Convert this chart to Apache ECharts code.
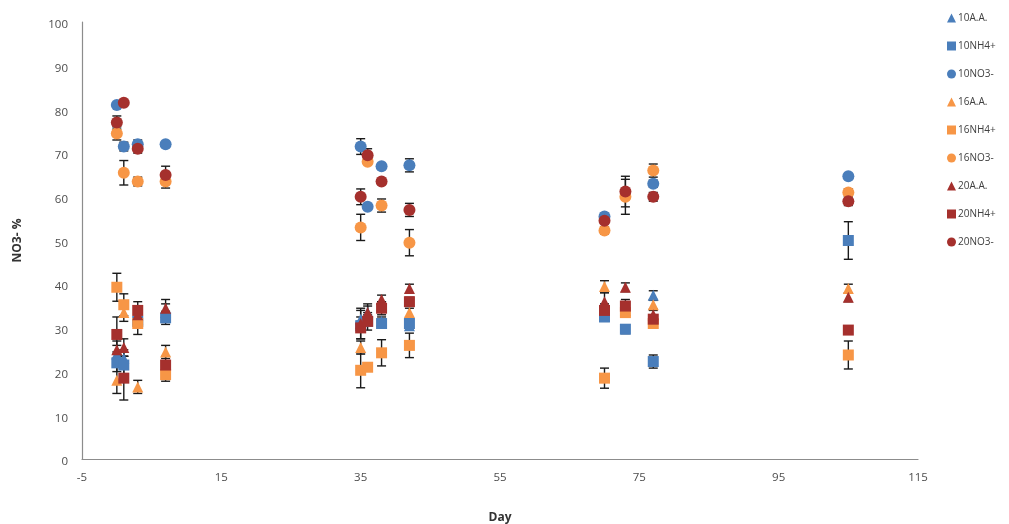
<!DOCTYPE html>
<html>
<head>
<meta charset="utf-8">
<script src="https://cdn.jsdelivr.net/npm/echarts@6/dist/echarts.min.js"></script>
<style>
  html, body { margin: 0; padding: 0; background: #fff; }
  #chart { width: 1009px; height: 524px; }
</style>
</head>
<body>
<div id="chart"></div>
<script>
// Sampling days (x positions)
const days = [0, 1, 3, 7, 35, 36, 38, 42, 70, 73, 77, 105];

// Tick labels
const xTicks = [-5, 15, 35, 55, 75, 95, 115];
const yTicks = [0, 10, 20, 30, 40, 50, 60, 70, 80, 90, 100];

// Series names (legend order)
const seriesNames = ['10A.A.', '10NH4+', '10NO3-', '16A.A.', '16NH4+', '16NO3-', '20A.A.', '20NH4+', '20NO3-'];

// NO3- % per series, one value per day (null = not measured)
const v10AA  = [24, 23, 32, 33.5, 32, 33.5, 31.5, 30.5, 33, 35, 37.5, null];
const v10NH4 = [22, 21.5, 31.5, 32.3, 30.5, 31.5, 31, 31, 32.5, 29.7, 22.3, 50];
const v10NO3 = [81, 71.5, 72, 72, 71.5, 57.7, 67, 67.2, 55.5, null, 63, 64.7];
const v16AA  = [18, 33.5, 16.5, 24.5, 25.5, 32, 35, 33.5, 39.5, 34, 35.3, 39];
const v16NH4 = [39.3, 35.3, 31, 19.3, 20.3, 21, 24.3, 26, 18.5, 33.5, 31, 23.8];
const v16NO3 = [74.5, 65.5, 63.5, 63.5, 53, 68, 58, 49.5, 52.3, 60, 66, 61];
const v20AA  = [25, 25.5, 33, 34.5, 31, 33.5, 36.5, 39, 36, 39.3, 33, 37];
const v20NH4 = [28.5, 18.5, 34, 21.5, 30, 31.5, 34.5, 36, 34, 35, 32, 29.5];
const v20NO3 = [77, 81.5, 71, 65, 60, 69.5, 63.5, 57, 54.5, 61.2, 60, 59];

// Standard errors per point
const e10AA  = [2, 2, 1.5, 2, 2, 1.5, 1, 1, 1, 1, 1, 0];
const e10NH4 = [2, 2, 1.5, 1.5, 1, 1, 1, 1, 1, 1, 1.5, 4.3];
const e10NO3 = [0, 1, 1, 0, 1.8, 0, 0, 1.5, 0.7, 0, 0.8, 0];
const e16AA  = [3, 2, 1.5, 1.5, 1.5, 1, 1, 1, 1.3, 1, 1, 1];
const e16NH4 = [3.2, 2.5, 2.5, 1.5, 4, 0, 3, 2.8, 2.3, 1, 1, 3.2];
const e16NO3 = [1.5, 2.8, 1, 1.5, 3, 0.5, 1.5, 3, 0.8, 4, 1.5, 0.8];
const e20AA  = [2, 2, 2, 2, 3.5, 2, 1, 1, 2, 1, 1, 1];
const e20NH4 = [4, 5, 2, 2, 2.5, 2, 1.5, 1, 1.5, 1.5, 1, 0];
const e20NO3 = [1.5, 0, 1, 2, 1.8, 1.5, 0, 1.5, 0, 3.5, 1, 1];

const values = [v10AA, v10NH4, v10NO3, v16AA, v16NH4, v16NO3, v20AA, v20NH4, v20NO3];
const errors = [e10AA, e10NH4, e10NO3, e16AA, e16NH4, e16NO3, e20AA, e20NH4, e20NO3];

const BLUE = '#4a7ebb', ORANGE = '#f79646', RED = '#a5302d';
const colors = [BLUE, BLUE, BLUE, ORANGE, ORANGE, ORANGE, RED, RED, RED];
const symbols = ['triangle', 'rect', 'circle', 'triangle', 'rect', 'circle', 'triangle', 'rect', 'circle'];

const series = [];
seriesNames.forEach(function (name, s) {
  const pts = [];
  const bars = [];
  days.forEach(function (d, i) {
    const v = values[s][i];
    if (v === null) return;
    pts.push([d, v]);
    const e = errors[s][i];
    if (e > 0) bars.push([d, v - e, v + e]);
  });

  // vertical error bars with caps
  series.push({
    type: 'custom',
    name: name + ' SE',
    data: bars,
    silent: true,
    renderItem: function (params, api) {
      const x = api.value(0);
      const lo = api.coord([x, api.value(1)]);
      const hi = api.coord([x, api.value(2)]);
      const cap = 4.5;
      const st = { stroke: '#1a1a1a', lineWidth: 1.4 };
      return {
        type: 'group',
        children: [
          { type: 'line', shape: { x1: lo[0], y1: lo[1], x2: hi[0], y2: hi[1] }, style: st },
          { type: 'line', shape: { x1: lo[0] - cap, y1: lo[1], x2: lo[0] + cap, y2: lo[1] }, style: st },
          { type: 'line', shape: { x1: hi[0] - cap, y1: hi[1], x2: hi[0] + cap, y2: hi[1] }, style: st }
        ]
      };
    },
    z: 2
  });

  series.push({
    type: 'scatter',
    name: name,
    data: pts,
    symbol: symbols[s],
    symbolSize: symbols[s] === 'circle' ? 12 : 11,
    itemStyle: { color: colors[s], opacity: 1 },
    z: 2
  });
});

const chart = echarts.init(document.getElementById('chart'), null, { renderer: 'canvas' });
chart.setOption({
  animation: false,
  backgroundColor: '#ffffff',
  grid: { left: 82, right: 91, top: 22, bottom: 65, containLabel: false, outerBoundsMode: 'none' },
  legend: {
    data: seriesNames,
    orient: 'vertical',
    left: 942,
    top: 8,
    itemWidth: 9,
    itemHeight: 9,
    itemGap: 18,
    textStyle: { fontFamily: 'Open Sans', fontSize: 10, color: '#404040', padding: [0, 0, 0, -3] }
  },
  xAxis: {
    type: 'value',
    min: xTicks[0],
    max: xTicks[xTicks.length - 1],
    interval: 20,
    name: 'Day',
    nameLocation: 'middle',
    nameGap: 53,
    nameTextStyle: { fontFamily: 'Open Sans', fontSize: 12, fontWeight: 'bold', color: '#333' },
    axisLine: { onZero: false, lineStyle: { color: '#8c8c8c', width: 1.2 } },
    axisTick: { show: false },
    splitLine: { show: false },
    axisLabel: { margin: 13, fontFamily: 'Open Sans', fontSize: 11.5, color: '#4d4d4d' }
  },
  yAxis: {
    type: 'value',
    min: yTicks[0],
    max: yTicks[yTicks.length - 1],
    interval: 10,
    name: 'NO3- %',
    nameLocation: 'middle',
    nameGap: 58,
    nameTextStyle: { fontFamily: 'Open Sans', fontSize: 12, fontWeight: 'bold', color: '#333' },
    axisLine: { show: true, onZero: false, lineStyle: { color: '#8c8c8c', width: 1.2 } },
    axisTick: { show: false },
    splitLine: { show: false },
    axisLabel: { margin: 14, fontFamily: 'Open Sans', fontSize: 11.5, color: '#4d4d4d', verticalAlign: 'top', lineHeight: 6 }
  },
  series: series
});
</script>
</body>
</html>
